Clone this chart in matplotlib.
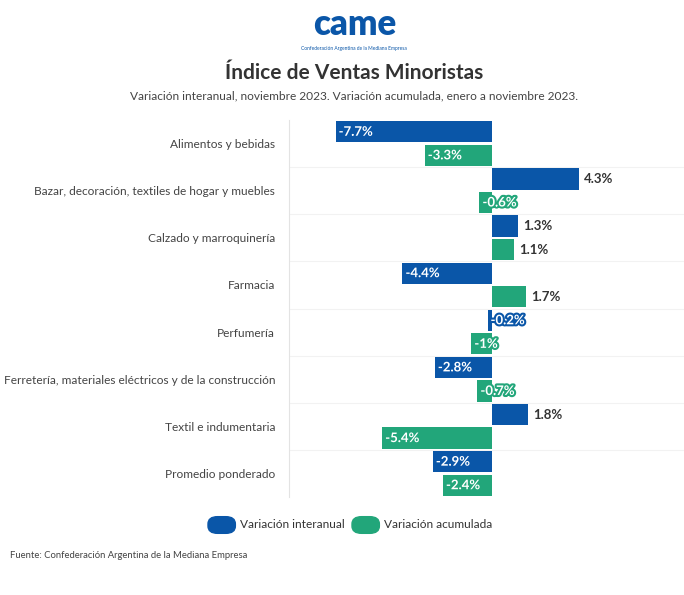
import matplotlib
matplotlib.use("Agg")
import matplotlib.pyplot as plt
import matplotlib.patheffects as pe
from matplotlib.patches import FancyBboxPatch
import numpy as np

plt.rcParams['font.family'] = ['Lato', 'DejaVu Sans']

categories = ["Alimentos y bebidas", "Bazar, decoración, textiles de hogar y muebles",
              "Calzado y marroquinería", "Farmacia", "Perfumería",
              "Ferretería, materiales eléctricos y de la construcción",
              "Textil e indumentaria", "Promedio ponderado"]
interanual = [-7.7, 4.3, 1.3, -4.4, -0.2, -2.8, 1.8, -2.9]
acumulada = [-3.3, -0.6, 1.1, 1.7, -1, -0.7, -5.4, -2.4]
labels_inter = ["-7.7%", "4.3%", "1.3%", "-4.4%", "-0.2%", "-2.8%", "1.8%", "-2.9%"]
labels_acum = ["-3.3%", "-0.6%", "1.1%", "1.7%", "-1%", "-0.7%", "-5.4%", "-2.4%"]
series_names = ["Variación interanual", "Variación acumulada"]

BLUE = "#0a56a8"
GREEN = "#22a67a"

fig = plt.figure(figsize=(6.84, 5.95), dpi=100)
ax = fig.add_axes([289/684, 1-497/595, (684-289)/684, (497-120)/595])

n = len(categories)
y = np.arange(n)
h = 0.45
ax.barh(y - 0.25, interanual, height=h, color=BLUE)
ax.barh(y + 0.25, acumulada, height=h, color=GREEN)
ax.set_ylim(n - 0.5, -0.5)
ax.set_xlim(-10, 9.5)
for i in range(n - 1):
    ax.axhline(i + 0.5, color="#f2f2f2", lw=0.8, zorder=0)
ax.set_yticks(y)
ax.set_yticklabels(categories, fontsize=8.6, color="#444444")
ax.tick_params(axis='y', length=0, pad=10)
ax.set_xticks([])
for s in ["top", "right", "bottom"]:
    ax.spines[s].set_visible(False)
ax.spines["left"].set_color("#e3e3e3")

def lab(vals, txts, off, col):
    for i, (v, t) in enumerate(zip(vals, txts)):
        yy = i + off
        if v >= 0:
            ax.text(v + 0.25, yy, t, va="center", ha="left", fontsize=9.5,
                    fontweight="bold", color="#333333")
        else:
            ax.text(v + 0.15, yy, t, va="center", ha="left", fontsize=9.5,
                    fontweight="bold", color="white",
                    path_effects=[pe.withStroke(linewidth=3, foreground=col)])

lab(interanual, labels_inter, -0.25, BLUE)
lab(acumulada, labels_acum, 0.25, GREEN)

# logo
fig.text(0.518, 0.958, "came", ha="center", va="center", fontsize=25,
         fontweight="heavy", color=BLUE)
fig.text(0.518, 0.918, "Confederación Argentina de la Mediana Empresa", ha="center",
         va="center", fontsize=3.5, color=BLUE)
fig.text(0.518, 0.878, "Índice de Ventas Minoristas", ha="center", va="center",
         fontsize=15, fontweight="bold", color="#333333")
fig.text(0.518, 0.838, "Variación interanual, noviembre 2023. Variación acumulada, enero a noviembre 2023.",
         ha="center", va="center", fontsize=8.6, color="#444444")

# legend
ly = 1 - 525/595
for x0, name, col in [(208/684, series_names[0], BLUE), (352/684, series_names[1], GREEN)]:
    fig.patches.append(FancyBboxPatch((x0, ly - 0.014), 0.04, 0.028,
                       boxstyle="round,pad=0,rounding_size=0.014", transform=fig.transFigure,
                       color=col, mutation_aspect=595/684))
    fig.text(x0 + 0.047, ly, name, ha="left", va="center", fontsize=8.6, color="#333333")

fig.text(0.015, 1 - 555/595, "Fuente: Confederación Argentina de la Mediana Empresa",
         fontsize=6.8, color="#444444", va="center")

fig.savefig("out.png", dpi=100, facecolor="white")
